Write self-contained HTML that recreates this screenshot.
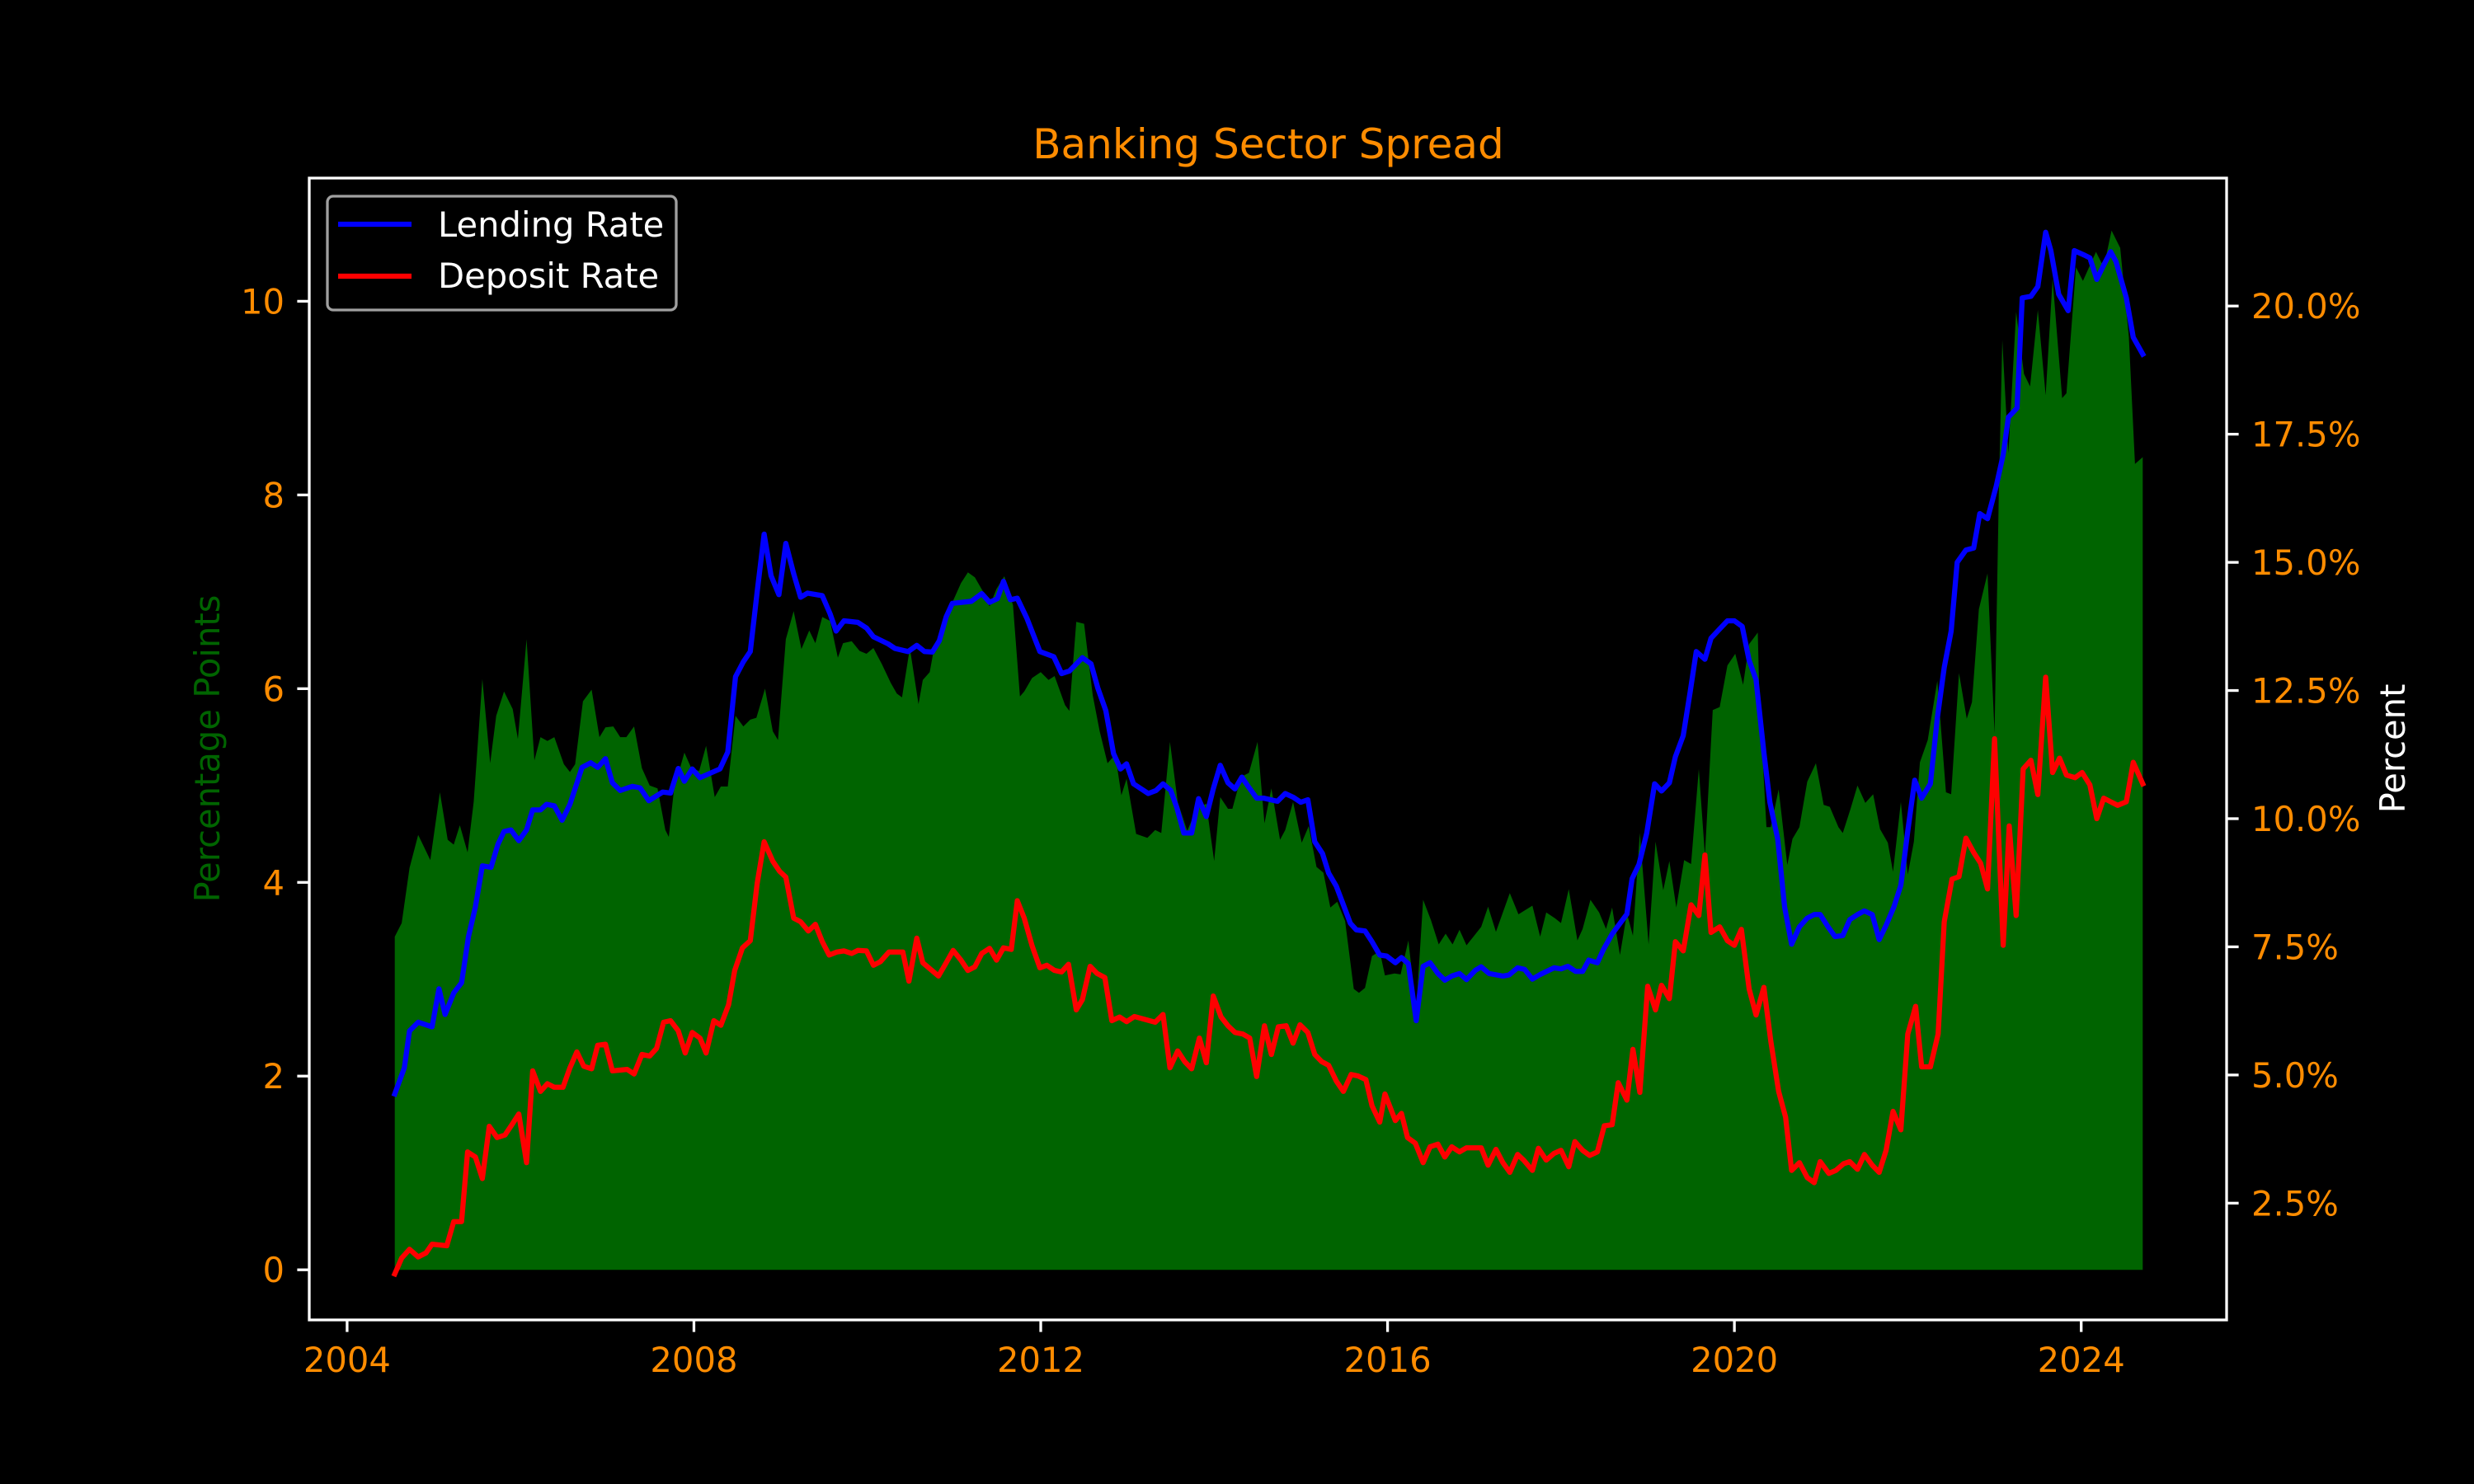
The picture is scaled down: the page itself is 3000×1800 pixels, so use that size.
<!DOCTYPE html>
<html><head><meta charset="utf-8"><title>Banking Sector Spread</title>
<style>html,body{margin:0;padding:0;background:#000;}svg{display:block;}text{font-family:"DejaVu Sans","Liberation Sans",sans-serif;}</style>
</head><body>
<svg id="chart" width="3000" height="1800" viewBox="0 0 3000 1800" xmlns="http://www.w3.org/2000/svg">
<rect x="0" y="0" width="3000" height="1800" fill="#000"/>
<g id="plot"></g>
<text x="1538" y="192" font-size="50" fill="#ff8c00" text-anchor="middle">Banking Sector Spread</text>
<text x="0" y="0" font-size="41.7" fill="#006400" text-anchor="middle" transform="translate(266,908) rotate(-90)">Percentage Points</text>
<text x="0" y="0" font-size="41.7" fill="#fff" text-anchor="middle" transform="translate(2916,908) rotate(-90)">Percent</text>
<g id="axes"></g>
<g>
<rect x="397" y="238" width="423" height="138" rx="7" fill="#000" stroke="#a0a0a0" stroke-width="3.3"/>
<line x1="410" y1="272" x2="499" y2="272" stroke="#0000ff" stroke-width="6.25"/>
<text x="531" y="287" font-size="41.7" fill="#fff">Lending Rate</text>
<line x1="410" y1="335" x2="499" y2="335" stroke="#ff0000" stroke-width="6.25"/>
<text x="531" y="349" font-size="41.7" fill="#fff">Deposit Rate</text>
</g>
</svg>
<script>
const spreadYears=[2004.55,2004.63,2004.72,2004.82,2004.89,2004.96,2005.07,2005.16,2005.23,2005.30,2005.39,2005.46,2005.56,2005.65,2005.72,2005.81,2005.91,2005.97,2006.07,2006.16,2006.23,2006.31,2006.39,2006.50,2006.57,2006.63,2006.72,2006.82,2006.91,2006.98,2007.07,2007.15,2007.22,2007.31,2007.40,2007.49,2007.58,2007.67,2007.71,2007.77,2007.89,2007.97,2008.06,2008.14,2008.24,2008.31,2008.39,2008.48,2008.57,2008.65,2008.72,2008.82,2008.91,2008.97,2009.06,2009.15,2009.24,2009.33,2009.40,2009.48,2009.57,2009.66,2009.72,2009.82,2009.91,2009.99,2010.07,2010.17,2010.27,2010.34,2010.40,2010.49,2010.59,2010.64,2010.72,2010.77,2010.87,2010.98,2011.08,2011.16,2011.24,2011.33,2011.41,2011.49,2011.58,2011.68,2011.76,2011.81,2011.90,2012.00,2012.09,2012.16,2012.28,2012.33,2012.41,2012.50,2012.60,2012.68,2012.77,2012.86,2012.93,2012.99,2013.10,2013.23,2013.32,2013.39,2013.49,2013.58,2013.69,2013.74,2013.84,2013.91,2014.00,2014.07,2014.16,2014.21,2014.31,2014.40,2014.50,2014.58,2014.66,2014.76,2014.82,2014.91,2015.01,2015.09,2015.18,2015.26,2015.34,2015.42,2015.51,2015.61,2015.67,2015.74,2015.82,2015.91,2015.97,2016.08,2016.15,2016.24,2016.33,2016.41,2016.50,2016.59,2016.67,2016.75,2016.83,2016.91,2016.99,2017.08,2017.16,2017.25,2017.41,2017.51,2017.67,2017.76,2017.83,2017.93,2018.00,2018.09,2018.19,2018.25,2018.34,2018.44,2018.52,2018.59,2018.68,2018.76,2018.83,2018.91,2019.01,2019.09,2019.18,2019.25,2019.33,2019.42,2019.50,2019.59,2019.66,2019.75,2019.83,2019.92,2020.01,2020.10,2020.17,2020.27,2020.29,2020.37,2020.42,2020.51,2020.61,2020.67,2020.75,2020.84,2020.94,2021.03,2021.10,2021.20,2021.25,2021.34,2021.42,2021.51,2021.60,2021.68,2021.77,2021.83,2021.92,2022.00,2022.07,2022.14,2022.23,2022.34,2022.44,2022.50,2022.59,2022.68,2022.74,2022.82,2022.92,2023.00,2023.05,2023.09,2023.16,2023.25,2023.34,2023.41,2023.50,2023.59,2023.67,2023.78,2023.83,2023.94,2024.02,2024.17,2024.26,2024.35,2024.45,2024.55,2024.62,2024.71];
const spreadValues=[3.44,3.58,4.15,4.49,4.36,4.23,4.93,4.44,4.39,4.59,4.31,4.83,6.1,5.23,5.72,5.97,5.79,5.48,6.51,5.26,5.5,5.46,5.5,5.22,5.14,5.22,5.87,5.99,5.5,5.6,5.61,5.5,5.5,5.61,5.18,5.0,4.97,4.54,4.47,4.96,5.34,5.18,5.15,5.41,4.88,4.99,4.99,5.72,5.61,5.68,5.7,6.0,5.56,5.47,6.51,6.8,6.41,6.6,6.47,6.74,6.7,6.32,6.47,6.49,6.39,6.36,6.42,6.25,6.06,5.95,5.91,6.42,5.84,6.09,6.17,6.42,6.64,6.89,7.09,7.2,7.15,7.01,6.85,7.03,7.16,6.86,5.92,5.97,6.11,6.17,6.09,6.13,5.83,5.77,6.69,6.67,5.93,5.56,5.23,5.32,4.9,5.07,4.5,4.46,4.54,4.51,5.45,4.83,4.53,4.64,4.79,4.81,4.22,4.88,4.76,4.76,5.09,5.13,5.45,4.61,4.97,4.44,4.54,4.83,4.41,4.58,4.16,4.1,3.74,3.8,3.6,2.9,2.86,2.91,3.24,3.29,3.04,3.06,3.05,3.4,2.68,3.82,3.61,3.36,3.47,3.36,3.51,3.35,3.44,3.54,3.75,3.49,3.89,3.67,3.76,3.44,3.69,3.63,3.58,3.93,3.4,3.52,3.82,3.69,3.52,3.74,3.25,3.68,3.45,4.51,3.36,4.42,3.92,4.22,3.74,4.23,4.19,5.17,4.28,5.78,5.81,6.24,6.36,6.04,6.46,6.58,5.86,4.57,4.57,4.96,4.18,4.45,4.57,5.04,5.23,4.8,4.78,4.57,4.51,4.76,5.0,4.82,4.91,4.55,4.41,4.11,4.83,4.08,4.42,5.24,5.47,6.08,4.93,4.91,6.16,5.69,5.86,6.82,7.19,5.54,8.02,9.6,8.43,9.89,9.25,9.12,9.91,9.03,10.23,9.0,9.05,10.35,10.21,10.51,10.35,10.73,10.55,9.63,8.32,8.39];
const lendingYears=[2004.55,2004.66,2004.72,2004.82,2004.98,2005.06,2005.13,2005.23,2005.32,2005.40,2005.48,2005.56,2005.66,2005.74,2005.81,2005.89,2005.98,2006.07,2006.14,2006.23,2006.30,2006.39,2006.48,2006.57,2006.71,2006.81,2006.89,2006.98,2007.06,2007.15,2007.29,2007.38,2007.48,2007.64,2007.73,2007.82,2007.89,2007.98,2008.07,2008.30,2008.39,2008.48,2008.57,2008.65,2008.73,2008.81,2008.89,2008.98,2009.06,2009.15,2009.23,2009.31,2009.48,2009.57,2009.64,2009.73,2009.89,2009.99,2010.07,2010.24,2010.32,2010.47,2010.57,2010.66,2010.75,2010.83,2010.91,2010.98,2011.09,2011.20,2011.32,2011.41,2011.50,2011.57,2011.65,2011.73,2011.84,2011.99,2012.15,2012.24,2012.33,2012.48,2012.58,2012.66,2012.75,2012.84,2012.92,2012.99,2013.07,2013.24,2013.33,2013.41,2013.50,2013.57,2013.65,2013.74,2013.82,2013.91,2013.99,2014.07,2014.16,2014.24,2014.32,2014.40,2014.49,2014.57,2014.73,2014.82,2014.91,2015.00,2015.08,2015.16,2015.25,2015.32,2015.41,2015.49,2015.57,2015.64,2015.74,2015.82,2015.91,2015.99,2016.09,2016.16,2016.24,2016.33,2016.41,2016.49,2016.58,2016.66,2016.74,2016.83,2016.91,2017.01,2017.08,2017.17,2017.33,2017.40,2017.50,2017.58,2017.67,2017.76,2017.92,2018.00,2018.08,2018.17,2018.25,2018.32,2018.42,2018.49,2018.59,2018.76,2018.82,2018.90,2018.99,2019.08,2019.16,2019.25,2019.32,2019.41,2019.49,2019.56,2019.66,2019.73,2019.83,2019.92,2020.00,2020.09,2020.17,2020.25,2020.34,2020.41,2020.50,2020.58,2020.66,2020.75,2020.84,2020.92,2020.99,2021.08,2021.16,2021.25,2021.33,2021.42,2021.50,2021.59,2021.67,2021.75,2021.84,2021.92,2022.00,2022.08,2022.16,2022.26,2022.34,2022.42,2022.50,2022.57,2022.67,2022.76,2022.83,2022.92,2023.02,2023.10,2023.16,2023.26,2023.32,2023.42,2023.50,2023.59,2023.65,2023.74,2023.85,2023.92,2024.04,2024.10,2024.18,2024.26,2024.34,2024.40,2024.52,2024.60,2024.71];
const lendingValues=[4.63,5.14,5.86,6.03,5.94,6.68,6.18,6.6,6.8,7.7,8.28,9.08,9.05,9.5,9.75,9.78,9.57,9.78,10.17,10.17,10.28,10.25,9.97,10.28,11.0,11.09,11.0,11.17,10.7,10.55,10.63,10.6,10.35,10.52,10.5,10.98,10.73,10.97,10.8,10.97,11.3,12.77,13.06,13.26,14.43,15.55,14.74,14.37,15.37,14.78,14.32,14.4,14.35,14.0,13.66,13.86,13.83,13.72,13.55,13.41,13.32,13.26,13.38,13.26,13.25,13.47,13.94,14.2,14.22,14.24,14.39,14.22,14.29,14.63,14.27,14.3,13.91,13.26,13.16,12.83,12.88,13.14,13.02,12.54,12.11,11.27,10.97,11.07,10.68,10.49,10.55,10.68,10.55,10.21,9.72,9.72,10.39,10.04,10.58,11.04,10.7,10.58,10.81,10.61,10.4,10.4,10.34,10.49,10.42,10.32,10.37,9.55,9.32,8.94,8.68,8.32,7.96,7.83,7.81,7.6,7.34,7.32,7.19,7.29,7.17,6.06,7.12,7.19,6.98,6.85,6.93,6.98,6.86,7.04,7.11,6.98,6.93,6.95,7.09,7.06,6.87,6.96,7.09,7.07,7.12,7.02,7.02,7.24,7.19,7.45,7.75,8.14,8.83,9.11,9.72,10.68,10.54,10.7,11.21,11.62,12.47,13.26,13.11,13.52,13.7,13.86,13.86,13.75,13.09,12.71,11.29,10.32,9.6,8.27,7.55,7.89,8.06,8.13,8.13,7.89,7.7,7.72,8.03,8.13,8.2,8.13,7.64,7.92,8.28,8.7,9.76,10.75,10.4,10.68,11.96,12.95,13.66,15.0,15.24,15.28,15.95,15.85,16.49,17.1,17.83,18.01,20.16,20.19,20.38,21.44,21.08,20.23,19.91,21.08,20.99,20.94,20.52,20.8,21.06,20.87,20.16,19.39,19.06];
const depositYears=[2004.55,2004.63,2004.72,2004.82,2004.91,2004.98,2005.15,2005.23,2005.32,2005.39,2005.48,2005.56,2005.64,2005.73,2005.82,2005.90,2005.98,2006.07,2006.14,2006.23,2006.31,2006.39,2006.49,2006.57,2006.65,2006.73,2006.82,2006.89,2006.98,2007.06,2007.23,2007.31,2007.40,2007.49,2007.57,2007.65,2007.73,2007.82,2007.90,2007.98,2008.07,2008.14,2008.23,2008.31,2008.40,2008.47,2008.56,2008.65,2008.73,2008.81,2008.91,2008.99,2009.06,2009.15,2009.23,2009.32,2009.40,2009.48,2009.56,2009.65,2009.73,2009.82,2009.89,2009.99,2010.07,2010.15,2010.25,2010.41,2010.48,2010.57,2010.64,2010.82,2010.91,2010.99,2011.08,2011.16,2011.24,2011.32,2011.41,2011.49,2011.57,2011.66,2011.73,2011.81,2011.90,2011.99,2012.07,2012.16,2012.24,2012.32,2012.41,2012.48,2012.57,2012.65,2012.74,2012.82,2012.91,2012.99,2013.08,2013.32,2013.41,2013.49,2013.58,2013.66,2013.74,2013.83,2013.91,2013.99,2014.08,2014.16,2014.24,2014.33,2014.41,2014.49,2014.58,2014.66,2014.74,2014.83,2014.91,2014.99,2015.08,2015.16,2015.24,2015.32,2015.41,2015.49,2015.58,2015.66,2015.75,2015.82,2015.91,2015.97,2016.09,2016.16,2016.23,2016.32,2016.41,2016.49,2016.58,2016.66,2016.74,2016.83,2016.91,2017.08,2017.16,2017.25,2017.33,2017.41,2017.50,2017.57,2017.67,2017.74,2017.83,2017.92,2018.00,2018.09,2018.16,2018.25,2018.33,2018.42,2018.50,2018.59,2018.66,2018.76,2018.83,2018.91,2019.00,2019.09,2019.16,2019.25,2019.32,2019.41,2019.50,2019.59,2019.66,2019.73,2019.83,2019.92,2020.00,2020.08,2020.17,2020.25,2020.34,2020.42,2020.51,2020.59,2020.66,2020.75,2020.84,2020.92,2020.99,2021.09,2021.17,2021.26,2021.33,2021.42,2021.50,2021.59,2021.67,2021.75,2021.83,2021.92,2022.00,2022.09,2022.16,2022.26,2022.35,2022.42,2022.51,2022.59,2022.67,2022.76,2022.84,2022.92,2023.00,2023.10,2023.17,2023.25,2023.33,2023.42,2023.50,2023.59,2023.67,2023.75,2023.83,2023.93,2024.01,2024.10,2024.18,2024.26,2024.34,2024.42,2024.52,2024.60,2024.71];
const depositValues=[1.12,1.43,1.6,1.45,1.53,1.7,1.67,2.14,2.14,3.5,3.4,2.98,4.0,3.78,3.83,4.03,4.24,3.29,5.08,4.68,4.83,4.76,4.76,5.14,5.45,5.17,5.12,5.58,5.6,5.08,5.11,5.02,5.4,5.37,5.52,6.03,6.06,5.86,5.43,5.83,5.72,5.43,6.06,5.97,6.37,7.04,7.48,7.62,8.74,9.55,9.17,8.97,8.86,8.06,7.99,7.81,7.94,7.6,7.34,7.4,7.42,7.37,7.43,7.42,7.14,7.21,7.4,7.4,6.83,7.67,7.19,6.93,7.19,7.43,7.24,7.04,7.11,7.37,7.47,7.24,7.48,7.45,8.4,8.06,7.52,7.09,7.14,7.04,7.01,7.16,6.27,6.47,7.12,6.98,6.9,6.06,6.13,6.04,6.14,6.03,6.18,5.14,5.47,5.26,5.12,5.72,5.24,6.54,6.13,5.96,5.83,5.8,5.72,4.97,5.96,5.4,5.94,5.96,5.62,5.98,5.83,5.4,5.26,5.19,4.88,4.68,5.01,4.98,4.91,4.4,4.08,4.63,4.11,4.25,3.78,3.67,3.29,3.6,3.65,3.4,3.6,3.5,3.58,3.58,3.24,3.55,3.29,3.1,3.45,3.34,3.14,3.57,3.34,3.47,3.53,3.21,3.7,3.53,3.43,3.5,4.01,4.03,4.85,4.51,5.5,4.66,6.73,6.27,6.75,6.49,7.6,7.42,8.32,8.11,9.29,7.78,7.89,7.62,7.53,7.84,6.68,6.17,6.71,5.66,4.68,4.18,3.14,3.29,3.0,2.9,3.31,3.08,3.14,3.27,3.31,3.16,3.45,3.24,3.1,3.53,4.29,3.93,5.8,6.34,5.16,5.16,5.8,7.99,8.82,8.87,9.62,9.34,9.13,8.63,11.56,7.53,9.86,8.11,10.97,11.14,10.47,12.76,10.9,11.18,10.85,10.8,10.9,10.66,10.0,10.4,10.33,10.26,10.33,11.1,10.68];
const xTicks=[2004,2008,2012,2016,2020,2024];
const leftTicks=[0,2,4,6,8,10];
const rightTicks=[2.5,5,7.5,10,12.5,15,17.5,20];
const rightTickLabels=["2.5%","5.0%","7.5%","10.0%","12.5%","15.0%","17.5%","20.0%"];

const NS="http://www.w3.org/2000/svg";
const AX={l:375,r:2700,t:216,b:1601};
function xS(yr){return 420.9+(yr-2004)*105.14;}
function yL(v){return 1540.2-v*117.48;}
function yR(p){return 993+(10-p)*62.18;}
function mk(tag,attrs,parent){const e=document.createElementNS(NS,tag);for(const k in attrs)e.setAttribute(k,attrs[k]);parent.appendChild(e);return e;}
const plot=document.getElementById('plot');
const axes=document.getElementById('axes');

// spread area
let d="M"+xS(spreadYears[0]).toFixed(1)+","+yL(0).toFixed(1);
for(let i=0;i<spreadYears.length;i++){d+=" L"+xS(spreadYears[i]).toFixed(1)+","+yL(spreadValues[i]).toFixed(1);}
d+=" L"+xS(spreadYears[spreadYears.length-1]).toFixed(1)+","+yL(0).toFixed(1)+" Z";
const area=mk('path',{d:d,fill:'#006400'},plot);



function linePath(xs,vs){let s="";for(let i=0;i<xs.length;i++){s+=(i?" L":"M")+xS(xs[i]).toFixed(1)+","+yR(vs[i]).toFixed(1);}return s;}
const lend=mk('path',{d:linePath(lendingYears,lendingValues),fill:'none',stroke:'#0000ff','stroke-width':6.25,'stroke-linejoin':'round','stroke-linecap':'square'},plot);


const dep=mk('path',{d:linePath(depositYears,depositValues),fill:'none',stroke:'#ff0000','stroke-width':6.25,'stroke-linejoin':'round','stroke-linecap':'square'},plot);



// frame
const frame=mk('rect',{x:AX.l,y:AX.t,width:AX.r-AX.l,height:AX.b-AX.t,fill:'none',stroke:'#fff','stroke-width':3.3},axes);



xTicks.forEach(function(t){
  const x=xS(t);
  const tk=mk('line',{x1:x,y1:AX.b,x2:x,y2:AX.b+14.6,stroke:'#fff','stroke-width':3.3},axes);
  
  
  const tx=mk('text',{x:x,y:1664,'font-size':41.7,fill:'#ff8c00','text-anchor':'middle'},axes);
  tx.textContent=String(t);
  
  
});
leftTicks.forEach(function(t){
  const y=yL(t);
  const tk=mk('line',{x1:AX.l-14.6,y1:y,x2:AX.l,y2:y,stroke:'#fff','stroke-width':3.3},axes);
  
  
  const tx=mk('text',{x:345,y:y+15,'font-size':41.7,fill:'#ff8c00','text-anchor':'end'},axes);
  tx.textContent=String(t);
  
  
});
rightTicks.forEach(function(t,i){
  const y=yR(t);
  const tk=mk('line',{x1:AX.r,y1:y,x2:AX.r+14.6,y2:y,stroke:'#fff','stroke-width':3.3},axes);
  
  
  const tx=mk('text',{x:2730,y:y+15,'font-size':41.7,fill:'#ff8c00','text-anchor':'start'},axes);
  tx.textContent=rightTickLabels[i];
  
  
});
</script>
</body></html>
